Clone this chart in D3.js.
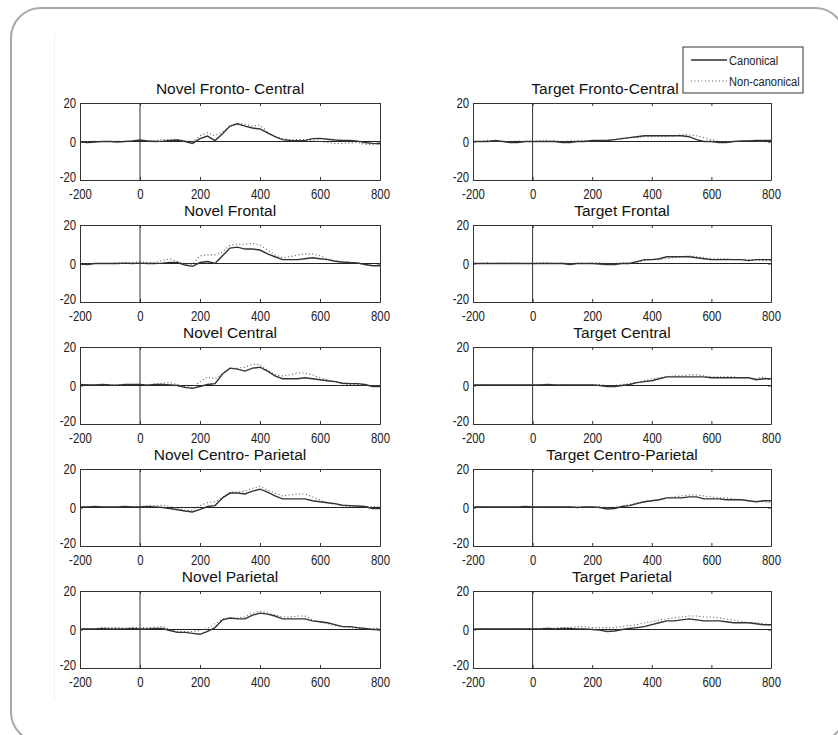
<!DOCTYPE html>
<html>
<head>
<meta charset="utf-8">
<script src="https://cdn.jsdelivr.net/npm/d3@7"></script>
<style>
  body { margin: 0; background: #fff; }
  svg { display: block; }
</style>
</head>
<body>
<div id="chart-area"></div>
<script>
// sample times (ms)
const times = [-200, -175, -150, -125, -100, -75, -50, -25, 0, 25, 50, 75, 100, 125, 150, 175, 200,
  225, 250, 275, 300, 325, 350, 375, 400, 425, 450, 475, 500, 525, 550, 575, 600, 625, 650, 675,
  700, 725, 750, 775, 800]

const xTicks = [-200, 0, 200, 400, 600, 800]
const yTicks = [-20, 0, 20]
const seriesNames = ['Canonical', 'Non-canonical']

// Novel
const novelFrontoCentralCan = [-0.3, -0.5, -0.3, 0, 0, -0.3, 0, 0.3, 0.8, 0.3, 0, 0.2, 0.6, 0.8, 0, -1, 1.5,
  2.8, 0.5, 4, 8, 9.2, 8, 7, 6.5, 4.5, 2.5, 1, 0.5, 0.4, 0.6, 1.5, 1.6, 1.2, 0.8, 0.5, 0.6, 0.2, -0.5, -1, -1.2]
const novelFrontoCentralNon = [0, 0, 0.2, 0, 0, 0.2, 0, 0.3, 0.5, 0.3, 0.5, 1, 1.2, 1, 0.5, 0, 3,
  4.5, 3, 5, 8, 9.5, 9, 8, 8.5, 5, 2.5, 1.5, 1, 1, 1, 0.5, 0, -0.5, -1, -1, -0.8, -0.5, -1.5, -1.5, -1]

const novelFrontalCan = [-0.3, -0.5, 0, 0, 0, 0, 0.2, 0, 0.2, 0, 0, 0.2, 0.5, 0.5, -0.8, -1.5, 0.5,
  1, 0, 4, 8, 8.5, 7.5, 7.5, 7, 5, 3.5, 2, 2, 2, 2.5, 3, 2.5, 2, 1.2, 0.8, 0.5, 0.3, -0.5, -1.2, -1.2]
const novelFrontalNon = [0, 0, 0, 0.2, 0, 0.3, 0.3, 0.5, 1, 0.5, 0.5, 1.5, 2.5, 1, 0, -0.5, 4,
  4.5, 4.5, 6, 9.5, 10, 10, 10.5, 9.5, 7, 4.5, 3, 3.5, 4.5, 5, 5, 4, 2.5, 1.5, 0.5, 0.3, 0, -0.5, -1, -1]

const novelCentralCan = [0.5, 0.3, 0.3, 0.5, 0.3, 0.2, 0.5, 0.5, 0.5, 0.2, 0.5, 0.5, 0.3, 0, -1, -1.5, -0.5,
  0.5, 1, 6, 9, 8.5, 7.5, 9, 9.5, 7.5, 5, 3.5, 3.5, 3.5, 4, 3.5, 3, 2.5, 2, 1.2, 1, 1, 0.5, -0.5, -0.5]
const novelCentralNon = [0.3, 0.5, 0.3, 0.3, 0.5, 0.3, 0.3, 0.5, 0.5, 0.5, 0.8, 1.2, 1.5, 0.5, -0.5, -1, 2,
  4.5, 3.5, 6, 9, 9, 9.5, 11, 11, 8, 5.5, 5, 5.5, 6.5, 6.5, 5.5, 4, 3, 2, 1, 0.5, 0.5, 0, 0, 0]

const novelCentroParietalCan = [0.3, 0.3, 0.5, 0.3, 0.3, 0.3, 0.5, 0.3, 0.3, 0.5, 0.3, 0, -0.5, -1.2, -1.8, -2.3, -1,
  0.5, 1, 5, 7.5, 7.5, 7, 8.5, 9.5, 8, 6, 4.5, 4.5, 4.5, 4.5, 3.5, 3, 2.5, 2, 1.2, 1, 0.8, 0.5, -0.5, -0.5]
const novelCentroParietalNon = [0.5, 0.3, 0.3, 0.5, 0.3, 0.3, 0.5, 0.5, 0.5, 0.8, 1, 1.2, 0.5, -0.5, -1.5, -1.5, 1,
  2.5, 3, 5, 8, 8, 8.5, 10, 11, 9, 7.5, 6, 6.5, 7, 7, 5.5, 4, 2.5, 1.5, 1, 0.5, 0.5, 0.5, 0.5, 0.5]

const novelParietalCan = [0.3, 0.3, 0.3, 0.5, 0.3, 0.3, 0.3, 0.5, 0.3, 0.3, 0.5, 0.5, -0.5, -1.5, -1.5, -2, -2.5,
  -1, 1, 5, 6, 5.5, 5.5, 7.5, 8.5, 8, 7, 5.5, 5.5, 5.5, 5.5, 4.5, 4, 3.5, 2.5, 1.5, 1.5, 1, 0.5, 0, 0]
const novelParietalNon = [0.3, 0.5, 0.5, 1, 1, 1, 0.8, 1, 1, 1, 1.2, 1.5, 0, -1, -1, -1, -0.5,
  0.5, 3, 5.5, 6, 6, 6.5, 8.5, 9.5, 8.5, 7.5, 6.5, 6.5, 7, 7, 5, 4, 3, 2, 1.5, 1, 0.5, 0.5, 0.5, 0.8]

// Target
const targetFrontoCentralCan = [0, 0, 0, 0.5, 0, -0.5, -0.5, 0, 0, 0, 0, 0, -0.5, -0.5, 0, 0, 0.5,
  0.5, 0.5, 1, 1.5, 2, 2.5, 3, 3, 3, 3, 3, 3, 2.5, 1, 0, 0, -0.5, -0.5, 0, 0.3, 0.3, 0.5, 0.5, 0.5]
const targetFrontoCentralNon = [0, 0, 0.5, 0, 0, 0, 0.3, 0, 0, 0.3, 0.5, 0.3, 0, 0.3, 0.3, 0.5, 0.3,
  0.5, 0.5, 1, 1.5, 2, 2, 2.5, 2.5, 2.5, 2.5, 3, 3.5, 3.5, 3, 2, 1, 0, 0, 0, 0, 0.5, 0, 0, -0.5]

const targetFrontalCan = [0, 0, 0, 0, 0, 0, 0, 0, 0, 0, 0, 0, 0, -0.5, 0, 0, 0,
  -0.3, -0.5, -0.5, 0, 0, 1, 2, 2, 2.5, 3.5, 3.5, 3.5, 3.5, 3, 2.5, 2, 2, 2, 2, 2, 1.5, 2, 2, 2]
const targetFrontalNon = [0, 0, 0.3, 0, 0.3, 0, 0.3, 0, 0, 0.3, 0.3, 0, 0.3, 0, 0.3, 0, 0.3,
  0.3, 0, 0, 0.3, 0.3, 0.5, 1.5, 2, 2, 2.5, 3, 3.5, 4, 3.5, 3, 2.5, 2.5, 2.5, 2, 2, 2, 2, 1.5, 1.5]

const targetCentralCan = [0.3, 0.3, 0.3, 0.3, 0.3, 0.3, 0.3, 0.3, 0.3, 0.3, 0.5, 0.3, 0.3, 0.3, 0.3, 0.3, 0.3,
  0, -0.5, -0.5, 0, 0.5, 1.5, 2, 2.5, 3.5, 4.5, 4.5, 4.5, 4.5, 4.5, 4.5, 4, 4, 4, 4, 4, 4, 3, 3.5, 3.5]
const targetCentralNon = [0.5, 0.3, 0.5, 0.3, 0.5, 0.3, 0.5, 0.5, 0.3, 0.5, 0.5, 0.3, 0.5, 0.5, 0.3, 0.5, 0.5,
  0.5, 0, 0, 0.5, 1, 1.5, 2.5, 3.5, 4, 4.5, 5, 5, 5.5, 5.5, 5, 4.5, 4.5, 4.5, 4.5, 4, 4, 3.5, 4.5, 2.5]

const targetCentroParietalCan = [0.3, 0.3, 0.3, 0.3, 0.3, 0.3, 0.3, 0.5, 0.3, 0.3, 0.3, 0.3, 0.3, 0.3, 0, 0.3, 0.3,
  0, -0.8, -0.5, 0.5, 1, 2, 3, 3.5, 4, 5, 5, 5, 5.5, 5.5, 4.5, 4.5, 4.5, 4, 4, 4, 3.5, 3, 3.5, 3.5]
const targetCentroParietalNon = [0.3, 0.3, 0.5, 0.3, 0.3, 0.5, 0.3, 0.3, 0.3, 0.3, 0.5, 0.5, 0.3, 0.5, 0.3, 0.3, 0.3,
  0.3, 0, 0.3, 0.5, 1.5, 2.5, 3, 3.5, 4, 5, 5.5, 6, 6.5, 6.5, 6, 5.5, 5, 5, 4.5, 4, 3.5, 3, 3, 2.5]

const targetParietalCan = [0.3, 0.3, 0.3, 0.3, 0.3, 0.3, 0.3, 0.3, 0.3, 0.3, 0.5, 0.3, 0.5, 0.5, 0.3, 0.3, 0,
  -0.3, -1, -0.8, 0, 0.5, 1, 1.5, 2.5, 3.5, 4.5, 4.5, 5, 5.5, 5, 4.5, 4.5, 4.5, 4, 3.5, 3.5, 3.5, 3, 2.5, 2.5]
const targetParietalNon = [0.5, 0.3, 0.5, 0.5, 0.3, 0.5, 0.5, 0.5, 0.5, 0.5, 0.8, 0.8, 1, 1, 1.5, 1.5, 1,
  1, 1, 1, 1.5, 2, 2.5, 3.5, 4, 5, 5.5, 6, 6.5, 7, 7, 6.5, 6.5, 6, 5.5, 5, 4, 3.5, 3.5, 3, 2]

const panels = [
  { title: 'Novel Fronto- Central', col: 0, row: 0, can: novelFrontoCentralCan, non: novelFrontoCentralNon },
  { title: 'Novel Frontal', col: 0, row: 1, can: novelFrontalCan, non: novelFrontalNon },
  { title: 'Novel Central', col: 0, row: 2, can: novelCentralCan, non: novelCentralNon },
  { title: 'Novel Centro- Parietal', col: 0, row: 3, can: novelCentroParietalCan, non: novelCentroParietalNon },
  { title: 'Novel Parietal', col: 0, row: 4, can: novelParietalCan, non: novelParietalNon },
  { title: 'Target Fronto-Central', col: 1, row: 0, can: targetFrontoCentralCan, non: targetFrontoCentralNon },
  { title: 'Target Frontal', col: 1, row: 1, can: targetFrontalCan, non: targetFrontalNon },
  { title: 'Target Central', col: 1, row: 2, can: targetCentralCan, non: targetCentralNon },
  { title: 'Target Centro-Parietal', col: 1, row: 3, can: targetCentroParietalCan, non: targetCentroParietalNon },
  { title: 'Target Parietal', col: 1, row: 4, can: targetParietalCan, non: targetParietalNon }
]

const width = 838
const height = 735
const colLeft = [80, 473]
const colWidth = [300, 298]
const rowTop = [103, 225, 347, 469, 591]
const plotHeight = 77
const font = '"Liberation Sans", Arial, sans-serif'

const svg = d3.select('#chart-area')
  .append('svg')
    .attr('width', width)
    .attr('height', height)

// slide frame
svg.append('rect')
  .attr('x', 11)
  .attr('y', 8)
  .attr('width', 834)
  .attr('height', 734)
  .attr('rx', 30)
  .attr('fill', 'none')
  .attr('stroke', '#a8a8a8')
  .attr('stroke-width', 2)

svg.append('line')
  .attr('x1', 54.5).attr('x2', 54.5)
  .attr('y1', 34).attr('y2', 700)
  .attr('stroke', '#f0f0f0')

panels.forEach(p => {
  const w = colWidth[p.col]
  const g = svg.append('g')
    .attr('transform', `translate(${colLeft[p.col]}, ${rowTop[p.row]})`)

  const x = d3.scaleLinear().domain([-200, 800]).range([0, w])
  const y = d3.scaleLinear().domain([-20, 20]).range([plotHeight, 0])

  g.append('rect')
    .attr('width', w)
    .attr('height', plotHeight)
    .attr('fill', '#fff')

  // zero lines
  g.append('line')
    .attr('x1', 0).attr('x2', w)
    .attr('y1', y(0)).attr('y2', y(0))
    .attr('stroke', '#222')
  g.append('line')
    .attr('x1', x(0)).attr('x2', x(0))
    .attr('y1', 0).attr('y2', plotHeight)
    .attr('stroke', '#333')

  const line = d3.line()
    .x((d, i) => x(times[i]))
    .y(d => y(d))

  g.append('path')
    .datum(p.non)
    .attr('d', line)
    .attr('fill', 'none')
    .attr('stroke', '#555')
    .attr('stroke-width', 1.1)
    .attr('stroke-dasharray', '1,2.5')

  g.append('path')
    .datum(p.can)
    .attr('d', line)
    .attr('fill', 'none')
    .attr('stroke', '#333')
    .attr('stroke-width', 1.4)

  // axes, ticks inside like matlab
  const fmt = d => String(d)
  const xAxisCall = d3.axisBottom(x).tickValues(xTicks).tickSizeInner(-3).tickSizeOuter(0).tickPadding(8).tickFormat(fmt)
  const xTopCall = d3.axisTop(x).tickValues(xTicks).tickSizeInner(-3).tickSizeOuter(0).tickFormat('')
  const yAxisCall = d3.axisLeft(y).tickValues(yTicks).tickSizeInner(-3).tickSizeOuter(0).tickPadding(5).tickFormat(fmt)
  const yRightCall = d3.axisRight(y).tickValues(yTicks).tickSizeInner(-3).tickSizeOuter(0).tickFormat('')

  g.append('g').attr('class', 'axis').attr('transform', `translate(0, ${plotHeight})`).call(xAxisCall)
  g.append('g').attr('class', 'axis').call(xTopCall)
  const yAxisG = g.append('g').attr('class', 'axis').call(yAxisCall)
  g.append('g').attr('class', 'axis').attr('transform', `translate(${w}, 0)`).call(yRightCall)

  g.selectAll('.axis path').attr('stroke', '#333')
  g.selectAll('.axis line').attr('stroke', '#333')
  g.selectAll('.axis text')
    .attr('fill', '#222')
    .attr('transform', 'scale(0.76, 1)')
    .style('font-family', font)
    .style('font-size', '15px')
  // lowest y label sits a little higher so it clears the -200 label
  yAxisG.selectAll('text').filter(d => d === yTicks[0]).attr('dy', '0.1em')

  g.append('text')
    .attr('x', p.col === 1 && p.row === 0 ? w / 2 - 17 : w / 2)
    .attr('y', -9)
    .attr('text-anchor', 'middle')
    .attr('fill', '#111')
    .style('font-family', font)
    .style('font-size', '15.5px')
    .text(p.title)
})

// legend
const legend = svg.append('g').attr('transform', 'translate(683, 47)')
legend.append('rect')
  .attr('width', 120)
  .attr('height', 46)
  .attr('fill', '#fff')
  .attr('stroke', '#333')

legend.selectAll('line.key').data(seriesNames).enter()
  .append('line')
    .attr('class', 'key')
    .attr('x1', 8).attr('x2', 44)
    .attr('y1', (d, i) => 13 + i * 21).attr('y2', (d, i) => 13 + i * 21)
    .attr('stroke', (d, i) => i === 0 ? '#333' : '#555')
    .attr('stroke-width', (d, i) => i === 0 ? 1.4 : 1.1)
    .attr('stroke-dasharray', (d, i) => i === 0 ? null : '1,2.5')

legend.selectAll('text').data(seriesNames).enter()
  .append('text')
    .attr('transform', (d, i) => `translate(46, ${13 + i * 21}) scale(0.82, 1)`)
    .attr('dy', '0.35em')
    .attr('fill', '#222')
    .style('font-family', font)
    .style('font-size', '13.5px')
    .text(d => d)
</script>
</body>
</html>
